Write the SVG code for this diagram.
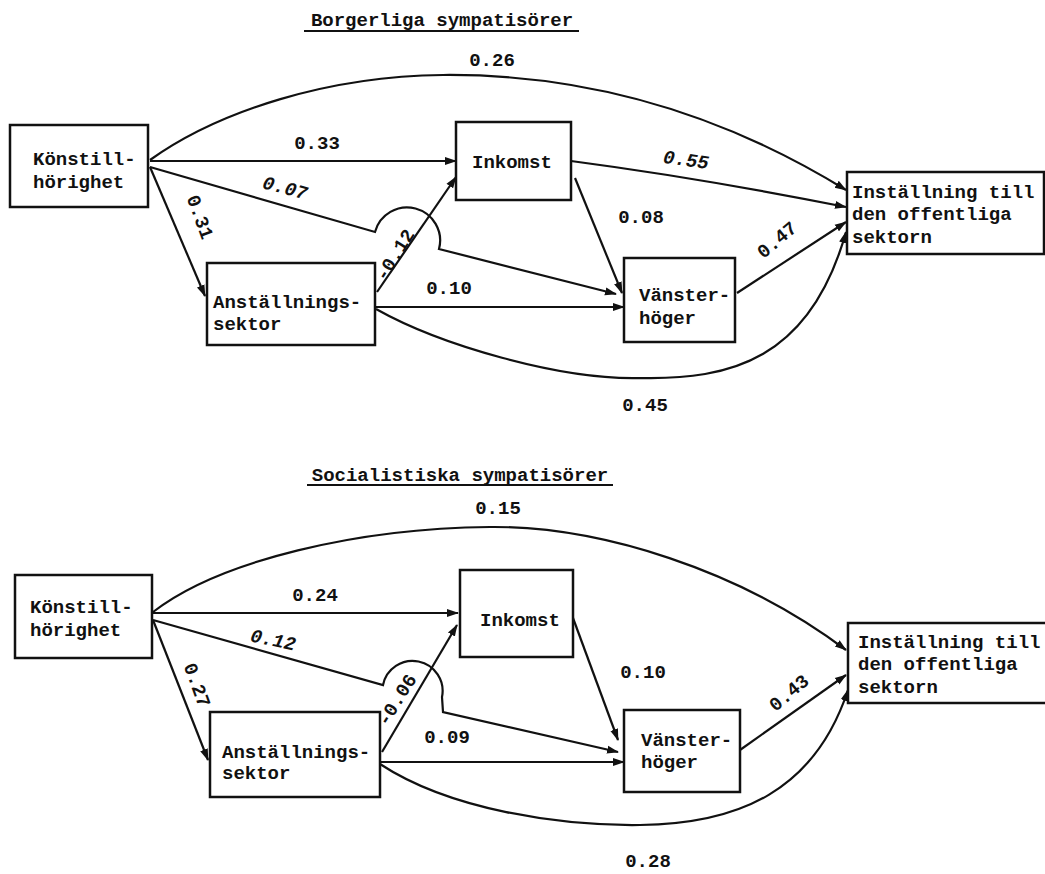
<svg xmlns="http://www.w3.org/2000/svg" width="1045" height="874" viewBox="0 0 1045 874">
<style>
text{font-family:"Liberation Mono","DejaVu Sans Mono",monospace;font-weight:bold;font-size:19px;fill:#111}
.lbl{text-anchor:middle}
.it{font-style:italic}
.box{fill:#fff;stroke:#111;stroke-width:2.5}
.c{fill:none;stroke:#111;stroke-width:2.2;marker-end:url(#ah)}
.ul{stroke:#111;stroke-width:2}
</style>
<defs>
<marker id="ah" viewBox="0 0 12 10" refX="11" refY="5" markerWidth="12" markerHeight="10" markerUnits="userSpaceOnUse" orient="auto"><path d="M0,1 L12,5 L0,9 z" fill="#111"/></marker>
</defs>
<rect width="1045" height="874" fill="#fff"/>

<!-- Titles -->
<text class="lbl" x="442" y="26">Borgerliga sympatisörer</text>
<line class="ul" x1="304" y1="31" x2="579" y2="31"/>
<text class="lbl" x="460" y="481">Socialistiska sympatisörer</text>
<line class="ul" x1="307" y1="485" x2="613" y2="485"/>

<!-- Top connectors -->
<g id="connectors-top">
<path class="c" d="M150,160 C220,110 330,76 443,75 C560,74 700,100 846,190"/>
<path class="c" d="M150,161 L456,161"/>
<path class="c" d="M150,167 L205,296"/>
<path class="c" d="M150,167 L375,232 A32,32 0 0 1 439,249 L616,294"/>
<path class="c" d="M377,292 L456,177"/>
<path class="c" d="M376,307 L624,307"/>
<path class="c" d="M376,309 C440,345 560,380 640,378 C730,380 810,360 846,232"/>
<path class="c" d="M571,161 Q700,178 846,207"/>
<path class="c" d="M575,178 L622,293"/>
<path class="c" d="M737,293 L846,222"/>
</g>
<g id="labels-top">
<text class="lbl" x="492" y="66">0.26</text>
<text class="lbl" x="317" y="149">0.33</text>
<text class="lbl it" transform="translate(285,188) rotate(15)" y="6">0.07</text>
<text class="lbl" transform="translate(200,217) rotate(70)" y="6">0.31</text>
<text class="lbl" transform="translate(395,255) rotate(-58)" y="6">-0.12</text>
<text class="lbl it" transform="translate(686,160) rotate(8)" y="6">0.55</text>
<text class="lbl" x="641" y="223">0.08</text>
<text class="lbl" transform="translate(777,240) rotate(-40)" y="6">0.47</text>
<text class="lbl" x="449" y="294">0.10</text>
<text class="lbl" x="645" y="411">0.45</text>
</g>
<!-- Top nodes -->
<g id="t-konstill"><rect class="box" x="10" y="125" width="138" height="82"/><text x="33" y="165">Könstill-</text><text x="33" y="188">hörighet</text></g>
<g id="t-anst"><rect class="box" x="207" y="263" width="168" height="82"/><text x="213" y="308">Anställnings-</text><text x="213" y="330">sektor</text></g>
<g id="t-inkomst"><rect class="box" x="456" y="122" width="115" height="78"/><text x="472" y="168">Inkomst</text></g>
<g id="t-vanster"><rect class="box" x="624" y="258" width="111" height="84"/><text x="639" y="301">Vänster-</text><text x="639" y="324">höger</text></g>
<g id="t-inst"><rect class="box" x="847" y="172" width="197" height="82"/><text x="852" y="198">Inställning till</text><text x="852" y="220">den offentliga</text><text x="852" y="243">sektorn</text></g>

<!-- Bottom connectors -->
<g id="connectors-bottom">
<path class="c" d="M153,612 C220,560 360,528 490,527 C600,526 740,570 846,650"/>
<path class="c" d="M153,613 L458,613"/>
<path class="c" d="M153,620 L208,760"/>
<path class="c" d="M153,620 L383,685 A30,30 0 0 1 442,697 L443,712 L618,752"/>
<path class="c" d="M382,752 L457,625"/>
<path class="c" d="M380,762 L624,762"/>
<path class="c" d="M380,764 C450,810 560,826 640,825 C740,824 815,790 848,690"/>
<path class="c" d="M573,618 L618,740"/>
<path class="c" d="M740,750 L846,675"/>
</g>
<g id="labels-bottom">
<text class="lbl" x="498" y="514">0.15</text>
<text class="lbl" x="315" y="601">0.24</text>
<text class="lbl it" transform="translate(273,640) rotate(12)" y="6">0.12</text>
<text class="lbl" transform="translate(197,685) rotate(70)" y="6">0.27</text>
<text class="lbl" transform="translate(397,700) rotate(-58)" y="6">-0.06</text>
<text class="lbl" x="447" y="743">0.09</text>
<text class="lbl" x="643" y="678">0.10</text>
<text class="lbl" transform="translate(789,693) rotate(-40)" y="6">0.43</text>
<text class="lbl" x="648" y="867">0.28</text>
</g>
<!-- Bottom nodes -->
<g id="b-konstill"><rect class="box" x="15" y="575" width="137" height="83"/><text x="30" y="613">Könstill-</text><text x="30" y="636">hörighet</text></g>
<g id="b-anst"><rect class="box" x="210" y="712" width="170" height="85"/><text x="222" y="758">Anställnings-</text><text x="222" y="779">sektor</text></g>
<g id="b-inkomst"><rect class="box" x="460" y="570" width="113" height="87"/><text x="480" y="626">Inkomst</text></g>
<g id="b-vanster"><rect class="box" x="624" y="710" width="116" height="82"/><text x="641" y="746">Vänster-</text><text x="641" y="768">höger</text></g>
<g id="b-inst"><rect class="box" x="848" y="623" width="200" height="80"/><text x="858" y="648">Inställning till</text><text x="858" y="670">den offentliga</text><text x="858" y="693">sektorn</text></g>
</svg>
